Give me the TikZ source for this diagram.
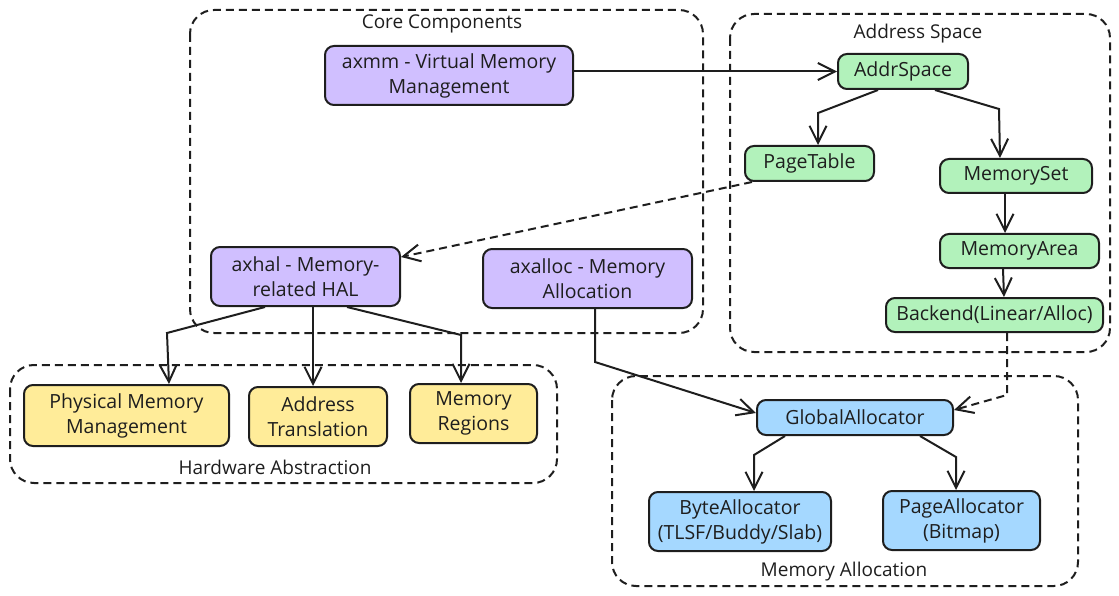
\documentclass[tikz,border=0pt]{standalone}
\usepackage{fontspec}
\setmainfont{Open Sans}
\usetikzlibrary{arrows.meta}
\definecolor{strk}{HTML}{1E1E1E}
\definecolor{purp}{HTML}{D0BFFF}
\definecolor{grn}{HTML}{B2F2BB}
\definecolor{yel}{HTML}{FFEC99}
\definecolor{blu}{HTML}{A5D8FF}
\tikzset{
  box/.style={draw=strk, line width=2pt, rounded corners=9pt, inner sep=0pt, align=center,
    font=\fontsize{19.5}{25}\selectfont, text=strk},
  pbox/.style={box, fill=purp},
  gbox/.style={box, fill=grn},
  ybox/.style={box, fill=yel},
  bbox/.style={box, fill=blu},
  cluster/.style={draw=strk, line width=2pt, rounded corners=24pt, dash pattern=on 8pt off 5pt},
  ctitle/.style={font=\fontsize{19}{20}\selectfont, text=strk, inner sep=0pt},
  arr/.style={draw=strk, line width=2pt, -{Straight Barb[length=17pt,width=17pt,line width=2pt]}},
  darr/.style={arr, dash pattern=on 8pt off 5pt},
}
\begin{document}
\begin{tikzpicture}[x=1pt,y=-1pt]
\useasboundingbox (0,0) rectangle (1119,596);
% clusters
\draw[cluster] (190,10) rectangle (703,333);
\node[ctitle] (tcore) at (442,24) {Core Components};
\draw[cluster] (730,14) rectangle (1110,352);
\node[ctitle] (taddr) at (918,34) {Address Space};
\draw[cluster] (10,365) rectangle (557,483);
\node[ctitle] (thw) at (275,467) {Hardware Abstraction};
\draw[cluster] (612,376) rectangle (1078,586);
\node[ctitle] (tma) at (844,572) {Memory Allocation};
% nodes
\node[pbox, minimum width=248pt, minimum height=59pt] (axmm) at (449,75.5) {axmm - Virtual Memory\\Management};
\node[pbox, minimum width=189pt, minimum height=59pt] (axhal) at (305.5,276.5) {axhal - Memory-\\related HAL};
\node[pbox, minimum width=209pt, minimum height=59pt] (axalloc) at (587.5,278.5) {axalloc - Memory\\Allocation};
\node[gbox, minimum width=130pt, minimum height=35pt] (as) at (903,71.5) {AddrSpace};
\node[gbox, minimum width=129pt, minimum height=35pt] (pt) at (809.5,163.5) {PageTable};
\node[gbox, minimum width=152pt, minimum height=34pt] (ms) at (1016,176) {MemorySet};
\node[gbox, minimum width=159pt, minimum height=34pt] (ma) at (1019.5,251) {MemoryArea};
\node[gbox, minimum width=217pt, minimum height=34pt] (be) at (994.5,315) {Backend(Linear/Alloc)};
\node[ybox, minimum width=205pt, minimum height=61pt] (pmm) at (126.5,415.5) {Physical Memory\\Management};
\node[ybox, minimum width=138pt, minimum height=59pt] (at) at (318,416.5) {Address\\Translation};
\node[ybox, minimum width=127pt, minimum height=59pt] (mr) at (473.5,413.5) {Memory\\Regions};
\node[bbox, minimum width=196pt, minimum height=35pt] (ga) at (855,417.5) {GlobalAllocator};
\node[bbox, minimum width=182pt, minimum height=59pt] (ba) at (740,521.5) {ByteAllocator\\(TLSF/Buddy/Slab)};
\node[bbox, minimum width=157pt, minimum height=59pt] (pa) at (961.5,520.5) {PageAllocator\\(Bitmap)};
% edges
\draw[arr] ([yshift=4pt]axmm.east) -- (as.west);
\draw[darr] ([xshift=8pt]pt.south west) -- ([yshift=-11pt]axhal.north east);
\draw[arr] ([xshift=-25pt]as.south) -- (818,113) -- ([xshift=8.5pt]pt.north);
\draw[arr] ([xshift=32pt]as.south) -- (999,109) -- ([xshift=-16pt]ms.north);
\draw[arr] ([xshift=-11pt]ms.south) -- ([xshift=-14.5pt]ma.north);
\draw[arr] ([xshift=-16.5pt]ma.south) -- ([xshift=9.5pt]be.north);
\draw[darr] ([xshift=12.5pt]be.south) -- (1007,395) -- ([yshift=7.5pt]ga.east);
\draw[arr] ([xshift=7.5pt]axalloc.south) -- (595,362) -- ([yshift=4.5pt]ga.west);
\draw[arr] ([xshift=-70pt]ga.south) -- (754,455) -- ([xshift=14pt]ba.north);
\draw[arr] ([xshift=65pt]ga.south) -- (956,457) -- ([xshift=-5.5pt]pa.north);
\draw[arr] ([xshift=-40.5pt]axhal.south) -- (167,333) -- ([xshift=42.5pt]pmm.north);
\draw[arr] ([xshift=7.5pt]axhal.south) -- ([xshift=-5pt]at.north);
\draw[arr] ([xshift=41.5pt]axhal.south) -- (461,335) -- ([xshift=-12.5pt]mr.north);
\end{tikzpicture}
\end{document}
